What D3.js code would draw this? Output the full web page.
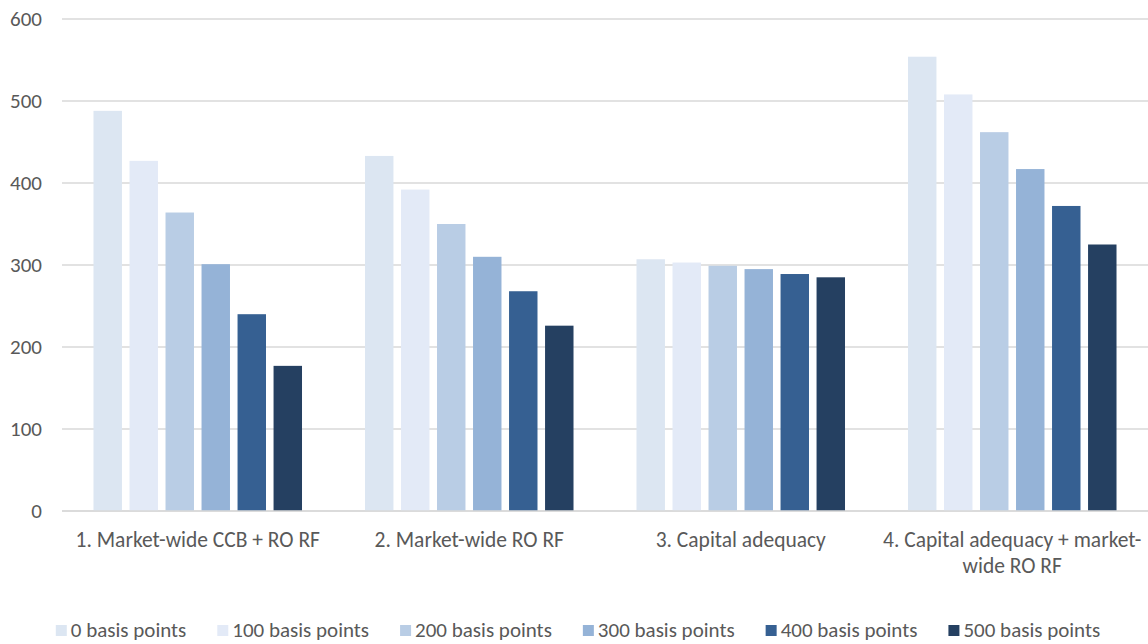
<!DOCTYPE html>
<html>
<head>
<meta charset="utf-8">
<script src="https://cdn.jsdelivr.net/npm/d3@7"></script>
<style>
  html, body { margin: 0; padding: 0; background: #fff; }
  svg { display: block; }
  text { font-family: Carlito, "Open Sans", "Liberation Sans", sans-serif; fill: #595959; }
</style>
</head>
<body>
<svg id="chart" width="1148" height="644"></svg>
<script>
// Scenario groups along the x axis
const categories = [
  "1. Market-wide CCB + RO RF",
  "2. Market-wide RO RF",
  "3. Capital adequacy",
  "4. Capital adequacy + market-wide RO RF"
];
// Wrapped label lines per category
const categoryLines = [
  ["1. Market-wide CCB + RO RF"],
  ["2. Market-wide RO RF"],
  ["3. Capital adequacy"],
  ["4. Capital adequacy + market-", "wide RO RF"]
];

// Series: shock size
const seriesNames = ["0 basis points", "100 basis points", "200 basis points",
                     "300 basis points", "400 basis points", "500 basis points"];
const seriesColors = ["#dce6f2", "#e3eaf7", "#b9cde5", "#95b3d7", "#366092", "#254061"];

// Values per series, one entry per category
const bp0   = [488, 433, 307, 554];
const bp100 = [427, 392, 303, 508];
const bp200 = [364, 350, 299, 462];
const bp300 = [301, 310, 295, 417];
const bp400 = [240, 268, 289, 372];
const bp500 = [177, 226, 285, 325];
const seriesValues = [bp0, bp100, bp200, bp300, bp400, bp500];

const yTicks = [0, 100, 200, 300, 400, 500, 600];

const FONT = "Carlito, 'Open Sans', 'Liberation Sans', sans-serif";
const FS = 21;
const FS_CAT = 21.5;

const svg = d3.select("#chart");
const margin = { left: 62, right: 0 };
const W = 1148;

const x0 = d3.scaleBand()
  .domain(categories)
  .range([margin.left, W - margin.right])
  .paddingInner(0).paddingOuter(0);

const bw = x0.bandwidth();
const x1 = d3.scaleBand()
  .domain(seriesNames)
  .range([bw * 0.116, bw * (1 - 0.116)])
  .paddingInner(0.21).paddingOuter(0);

const y = d3.scaleLinear().domain([0, 600]).range([511, 19]);

// Horizontal gridlines
svg.append("g")
  .selectAll("line")
  .data(yTicks)
  .join("line")
  .attr("x1", margin.left)
  .attr("x2", W)
  .attr("y1", d => y(d))
  .attr("y2", d => y(d))
  .attr("stroke", "#d9d9d9")
  .attr("stroke-width", 1.3);

// Y axis labels
const yAxis = d3.axisLeft(y).tickValues(yTicks).tickSize(0).tickPadding(0);
const yg = svg.append("g").attr("transform", "translate(42,0)").call(yAxis);
yg.attr("font-size", FS).attr("font-family", FONT);
yg.select(".domain").remove();
yg.selectAll("text").attr("fill", "#595959");

// Bars
const groups = svg.append("g")
  .selectAll("g")
  .data(categories)
  .join("g")
  .attr("transform", d => `translate(${x0(d)},0)`);

groups.selectAll("rect")
  .data((c, ci) => seriesNames.map((s, si) => ({ s, si, v: seriesValues[si][ci] })))
  .join("rect")
  .attr("x", d => x1(d.s))
  .attr("width", x1.bandwidth())
  .attr("y", d => y(d.v))
  .attr("height", d => y(0) - y(d.v))
  .attr("fill", d => seriesColors[d.si]);

// Baseline
svg.append("line")
  .attr("x1", margin.left).attr("x2", W)
  .attr("y1", y(0)).attr("y2", y(0))
  .attr("stroke", "#d9d9d9").attr("stroke-width", 1.5);

// Category labels
const xAxis = d3.axisBottom(x0).tickSize(0).tickPadding(0).tickFormat(() => "");
const xg = svg.append("g").attr("transform", `translate(0,${y(0)})`).call(xAxis);
xg.attr("font-size", FS_CAT).attr("font-family", FONT);
xg.select(".domain").remove();
xg.selectAll(".tick").each(function(d, i) {
  const t = d3.select(this).select("text")
    .attr("y", 0).attr("dy", null)
    .attr("fill", "#595959");
  categoryLines[i].forEach((line, li) => {
    t.append("tspan").attr("x", 0).attr("y", 35.5 + li * 26).text(line);
  });
});

// Legend
const legend = svg.append("g").attr("font-size", FS).attr("font-family", FONT);
const items = legend.selectAll("g")
  .data(seriesNames)
  .join("g");
items.append("rect")
  .attr("width", 11).attr("height", 11)
  .attr("y", -12)
  .attr("fill", (d, i) => seriesColors[i]);
items.append("text")
  .attr("x", 15)
  .attr("y", 0)
  .text(d => d);

const GAP = 31;
let cx = 0;
items.each(function() {
  const g = d3.select(this);
  const tw = g.select("text").node().getComputedTextLength();
  g.attr("transform", `translate(${cx},0)`);
  cx += 15 + tw + GAP;
});
const legendWidth = cx - GAP;
legend.attr("transform", `translate(${578 - legendWidth / 2},637)`);
</script>
</body>
</html>
